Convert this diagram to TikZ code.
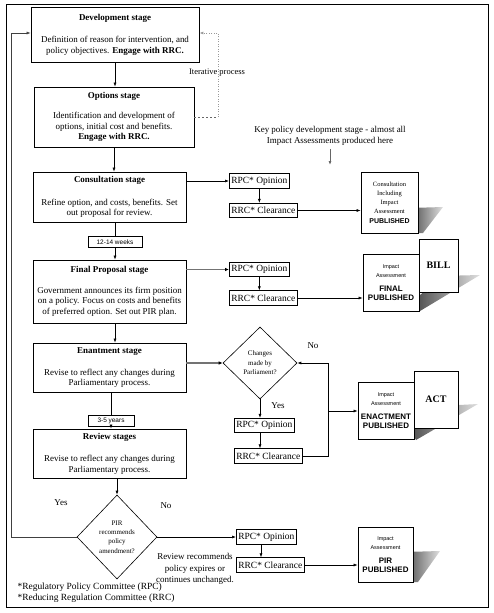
\documentclass[tikz,border=0pt]{standalone}
\usepackage{fontspec}
\setmainfont{Liberation Serif}
\setsansfont{Liberation Sans}
\usetikzlibrary{arrows.meta,positioning,shapes.geometric}
\newcommand{\iaserif}{\rmfamily\fontsize{6.5}{9.4}\selectfont}
\newcommand{\iastamp}{\sffamily\bfseries\fontsize{8}{10}\selectfont}
\tikzset{
  stage/.style={rectangle, draw=black, line width=0.8pt, align=center, inner sep=2pt,
    minimum width=153bp, font=\fontsize{9}{10.5}\selectfont},
  lapse/.style={rectangle, draw=black, line width=0.7pt, fill=white, inner sep=1pt,
    minimum height=11bp, font=\sffamily\fontsize{6.5}{7.5}\selectfont},
  verdict/.style={rectangle, draw=black, line width=0.7pt, anchor=west, inner xsep=2pt,
    inner ysep=1pt, minimum height=14.5bp, font=\fontsize{9.5}{10.5}\selectfont},
  query/.style={diamond, draw=black, line width=0.6pt, align=center, inner sep=0pt,
    font=\fontsize{7}{9.5}\selectfont},
  doc/.style={rectangle, draw=black, line width=0.8pt, fill=white, align=center,
    inner sep=1pt, font=\sffamily\fontsize{5.5}{9}\selectfont},
  sheet/.style={rectangle, draw=black, line width=0.8pt, fill=white,
    font=\bfseries\fontsize{10}{12}\selectfont},
  note/.style={align=center, font=\fontsize{8.5}{10.5}\selectfont},
  flow/.style={-{Latex[length=4pt,width=3pt]}, line width=0.6pt, draw=black},
  heavy/.style={-{Latex[length=4pt,width=3.5pt,black]}, line width=1.4pt, draw=black!55},
  loopdash/.style={line width=0.8pt, draw=black!60, dash pattern=on 2pt off 2pt},
  loopdot/.style={-{Latex[length=4pt,width=3pt]}, line width=0.9pt, draw=black!40,
    dash pattern=on 1pt off 1.5pt},
  cast/.style={left color=black!70, right color=black!12, draw=none},
}
\begin{document}
\begin{tikzpicture}[x=1bp, y=-1bp]
  \useasboundingbox (0,0) rectangle (494,613);
  \draw[line width=0.8pt] (6,4) rectangle (488,607);

  % stages on the left
  \node[stage, minimum width=168bp, minimum height=55bp] (dev) at (115,34.5)
    {\textbf{Development stage}\\[12pt] Definition of reason for intervention, and\\
     policy objectives. \textbf{Engage with RRC.}};
  \node[stage, minimum width=160bp, minimum height=60bp] (opt) at (114,117)
    {\textbf{Options stage}\\[10pt] Identification and development of\\
     options, initial cost and benefits.\\ \textbf{Engage with RRC.}};
  \node[stage, minimum height=50bp] (cons) at (109.5,197)
    {\textbf{Consultation stage}\\[12pt] Refine option, and costs, benefits. Set\\
     out proposal for review.};
  \node[stage, minimum height=63bp] (final) at (109.5,291.5)
    {\textbf{Final Proposal stage}\\[10pt] Government announces its firm position\\
     on a policy. Focus on costs and benefits\\ of preferred option. Set out PIR plan.};
  \node[stage, minimum height=49bp] (enact) at (109.5,367.5)
    {\textbf{Enantment stage}\\[12pt] Revise to reflect any changes during\\
     Parliamentary process.};
  \node[stage, minimum height=49bp] (rev) at (109.5,453.5)
    {\textbf{Review stages}\\[12pt] Revise to reflect any changes during\\
     Parliamentary process.};
  \node[lapse, minimum width=54bp] (wk) at (115,242) {12-14 weeks};
  \node[lapse, minimum width=46bp] (yrs) at (111,421) {3-5 years};
  \node[query, minimum width=80bp, minimum height=84bp] (pir) at (117,537)
    {PIR\\ recommends\\ policy\\ amendment?};

  \draw[flow] (dev.south) -- (dev.south |- opt.north);
  \draw[flow] (opt.south) -- (opt.south |- cons.north);
  \draw[line width=0.6pt] (wk.north |- cons.south) -- (wk.north);
  \draw[flow] (wk.south) -- (wk.south |- final.north);
  \draw[flow] (wk |- final.south) -- (wk |- enact.north);
  \draw[line width=0.6pt] (yrs.north |- enact.south) -- (yrs.north);
  \draw[flow] (yrs.south) -- (yrs.south |- rev.north);
  \draw[flow] (pir.north |- rev.south) -- (pir.north);

  % iterative loop
  \coordinate (itr1) at (218,117);
  \coordinate (itr2) at (218,33);
  \draw[loopdash] (opt.east |- itr1) -- (itr1);
  \draw[loopdot] (itr1) -- (itr2) -- (dev.east |- itr2);
  \node[note] (itr) at (217,73) {Iterative process};

  % feedback from review
  \coordinate (fb) at (11,33);
  \draw[flow, draw=black!75] (pir.west) -| (fb) -- (fb -| dev.west);
  \node[note, font=\fontsize{9}{10.5}\selectfont] at (61,503) {Yes};
  \node[note, font=\fontsize{9}{10.5}\selectfont] at (166,506) {No};

  \node[note, font=\fontsize{9}{10.5}\selectfont] (key) at (330,136)
    {Key policy development stage - almost all\\ Impact Assessments produced here};
  \coordinate (keyend) at (330,165);
  \draw[flow, line width=1pt, draw=black!60] (key.south) -- (keyend);

  % shadows behind the published documents
  \shade[cast] (410,208) -- (443,207) -- (423,233) -- (410,233) -- cycle;
  \shade[cast] (440,276) -- (480,275) -- (420,311) -- (415,300) -- cycle;
  \shade[cast] (440,406) -- (478,404) -- (416,440) -- (410,430) -- cycle;
  \shade[cast] (405,552) -- (440,551) -- (418,582) -- (405,582) -- cycle;

  % consultation row
  \node[verdict] (rpc1) at (229,181) {RPC* Opinion};
  \node[verdict] (rrc1) at (229,210.5) {RRC* Clearance};
  \node[doc, minimum width=57bp, minimum height=61bp] (pub1) at (389.5,202.5)
    {{\iaserif Consultation}\\ {\iaserif Including}\\ {\iaserif Impact}\\
     {\iaserif Assessment}\\[1pt] {\sffamily\bfseries\fontsize{7}{9}\selectfont PUBLISHED}};
  \draw[flow] (cons.east |- rpc1.west) -- (rpc1.west);
  \draw[flow] (rpc1.south) -- (rpc1.south |- rrc1.north);
  \draw[flow] (rrc1.east) -- (rrc1.east -| pub1.west);

  % final proposal row
  \node[verdict] (rpc2) at (229,269.5) {RPC* Opinion};
  \node[verdict] (rrc2) at (229,298) {RRC* Clearance};
  \node[sheet, minimum width=39bp, minimum height=53bp] (bill) at (438.5,265.5) {BILL};
  \node[doc, minimum width=56bp, minimum height=57bp] (pub2) at (391,282.5)
    {Impact\\ Assessment\\[5pt] {\iastamp FINAL}\\ {\iastamp PUBLISHED}};
  \draw[heavy] (final.east |- rpc2.west) -- (rpc2.west);
  \draw[flow] (rpc2.south) -- (rpc2.south |- rrc2.north);
  \draw[flow] (rrc2.east) -- (rrc2.east -| pub2.west);

  % enactment row
  \node[query, minimum width=74bp, minimum height=72bp] (chg) at (260,363)
    {Changes\\ made by\\ Parliament?};
  \node[verdict] (rpc3) at (234,425.5) {RPC* Opinion};
  \node[verdict] (rrc3) at (234,456) {RRC* Clearance};
  \node[sheet, minimum width=44bp, minimum height=57bp] (act) at (436,399.5) {ACT};
  \node[doc, minimum width=56bp, minimum height=57bp] (pub3) at (386,411)
    {Impact\\ Assessment\\[5pt] {\iastamp ENACTMENT}\\ {\iastamp PUBLISHED}};
  \coordinate (jn) at (328,411);
  \draw[heavy] (enact.east |- chg.west) -- (chg.west);
  \draw[flow] (chg.south) -- (chg.south |- rpc3.north);
  \draw[flow] (chg.south |- rpc3.south) -- (chg.south |- rrc3.north);
  \draw[flow] (rrc3.east) -- (rrc3.east -| jn) -- (jn |- chg.east) -- (chg.east);
  \draw[flow] (jn) -- (pub3.west);
  \node[note, font=\fontsize{9}{10.5}\selectfont] at (313,346) {No};
  \node[note, font=\fontsize{9}{10.5}\selectfont] at (278,406) {Yes};

  % review row
  \node[verdict] (rpc4) at (236,537) {RPC* Opinion};
  \node[verdict] (rrc4) at (236,565) {RRC* Clearance};
  \node[doc, minimum width=55bp, minimum height=55bp] (pub4) at (385.5,554.5)
    {Impact\\ Assessment\\[5pt] {\iastamp PIR}\\ {\iastamp PUBLISHED}};
  \coordinate (col4) at (261,0);
  \draw[flow] (pir.east) -- (rpc4.west);
  \draw[flow] (col4 |- rpc4.south) -- (col4 |- rrc4.north);
  \draw[flow] (rrc4.east) -- (rrc4.east -| pub4.west);
  \node[note, font=\fontsize{9}{11.5}\selectfont] (out) at (195,569)
    {Review recommends\\ policy expires or\\ continues unchanged.};

  % footnotes
  \node[note, anchor=west, align=left, font=\fontsize{9.5}{11}\selectfont] (fn) at (14,592.5)
    {*Regulatory Policy Committee (RPC)\\ *Reducing Regulation Committee (RRC)};
\end{tikzpicture}
\end{document}
